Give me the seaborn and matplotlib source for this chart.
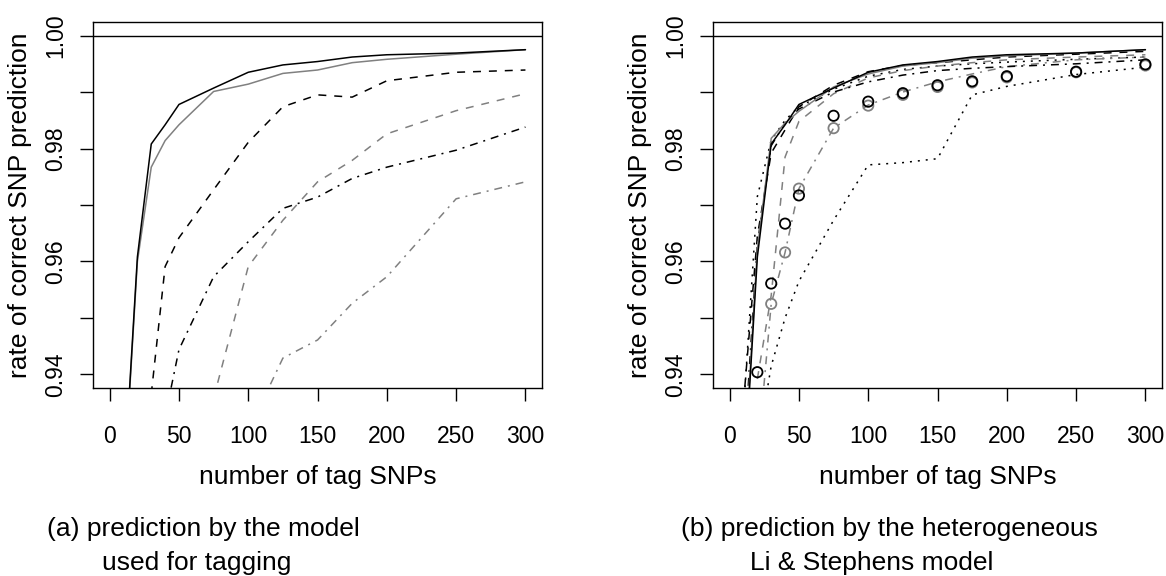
import numpy as np
import pandas as pd
import matplotlib
matplotlib.use("Agg")
import matplotlib.pyplot as plt
import seaborn as sns

# number of tag SNPs
n_tags = [10, 20, 30, 40, 50, 75, 100, 125, 150, 175, 200, 250, 300]
nan = np.nan

# (a) prediction by the model used for tagging
a_black_solid = [0.9195, 0.9608, 0.9808, 0.9842, 0.9878, 0.9907, 0.9935, 0.9948, 0.9954, 0.9962, 0.9966, 0.9969, 0.9975]
a_gray_solid = [0.9190, 0.9600, 0.9767, 0.9814, 0.9842, 0.9901, 0.9914, 0.9933, 0.9939, 0.9952, 0.9958, 0.9967, 0.9975]
a_black_dashed = [nan, nan, 0.9365, 0.9591, 0.9642, 0.9727, 0.9811, 0.9874, 0.9895, 0.9891, 0.9920, 0.9935, 0.9939]
a_black_dashdot = [nan, nan, nan, 0.9325, 0.9444, 0.9573, 0.9635, 0.9694, 0.9714, 0.9747, 0.9767, 0.9797, 0.9838]
a_gray_dashed = [nan, nan, nan, nan, nan, 0.9358, 0.9591, 0.9673, 0.9741, 0.9779, 0.9826, 0.9867, 0.9897]
a_gray_dashdot = [nan, nan, nan, nan, nan, nan, 0.9300, 0.9429, 0.9461, 0.9526, 0.9573, 0.9711, 0.9741]

# (b) prediction by the heterogeneous Li & Stephens model
b_gray_solid = [0.9210, 0.9622, 0.9818, 0.9845, 0.9866, 0.9909, 0.9932, 0.9946, 0.9952, 0.9960, 0.9964, 0.9969, 0.9975]
b_black_dashed = [0.9350, 0.9645, 0.9792, 0.9833, 0.9874, 0.9912, 0.9936, 0.9947, 0.9952, 0.9957, 0.9962, 0.9967, 0.9972]
b_black_dashdot = [0.9250, 0.9630, 0.9805, 0.9845, 0.9870, 0.9900, 0.9918, 0.9930, 0.9938, 0.9942, 0.9945, 0.9950, 0.9957]
b_gray_dashed = [nan, 0.9392, 0.9540, 0.9785, 0.9848, 0.9897, 0.9925, 0.9938, 0.9946, 0.9952, 0.9957, 0.9962, 0.9966]
b_gray_dashdot = [nan, 0.9250, 0.9525, 0.9616, 0.9729, 0.9836, 0.9877, 0.9900, 0.9918, 0.9932, 0.9945, 0.9957, 0.9962]
b_black_dotted = [0.9335, 0.9715, 0.9815, 0.9850, 0.9874, 0.9905, 0.9928, 0.9940, 0.9946, 0.9950, 0.9953, 0.9958, 0.9962]
b_black_dotted2 = [nan, 0.9270, 0.9415, 0.9500, 0.9565, 0.9673, 0.9771, 0.9775, 0.9782, 0.9895, 0.9910, 0.9931, 0.9944]
b_black_circles = [nan, 0.9404, 0.9561, 0.9667, 0.9717, 0.9858, 0.9883, 0.9898, 0.9912, 0.9919, 0.9928, 0.9936, 0.9949]
b_gray_circles = [nan, 0.9350, 0.9525, 0.9616, 0.9729, 0.9836, 0.9876, 0.9895, 0.9909, 0.9917, 0.9926, 0.9935, 0.9947]

x_ticks = [0, 50, 100, 150, 200, 250, 300]
y_ticks = [0.94, 0.95, 0.96, 0.97, 0.98, 0.99, 1.00]
y_ticklabels = ["0.94", "", "0.96", "", "0.98", "", "1.00"]

GRAY = "#808080"
DASHED = (0, (5.2, 5.2))
DOTTED = (0, (1.3, 3.9))
DASHDOT = (0, (1.3, 3.9, 5.2, 3.9))
TICK_FS = 16.5
LABEL_FS = 19
CAPTION_FS = 19

sns.set_style("ticks")
plt.rcParams["font.family"] = ["Liberation Sans", "DejaVu Sans"]
plt.rcParams["text.color"] = "black"
plt.rcParams["axes.labelcolor"] = "black"
plt.rcParams["xtick.color"] = "black"
plt.rcParams["ytick.color"] = "black"


def add_line(ax, y, color, ls, lw=1.1):
    df = pd.DataFrame({"x": n_tags, "y": y}).dropna()
    sns.lineplot(data=df, x="x", y="y", ax=ax, color=color, linestyle=ls,
                 linewidth=lw, estimator=None, sort=False)


def add_circles(ax, y, color):
    df = pd.DataFrame({"x": n_tags, "y": y}).dropna()
    sns.scatterplot(data=df, x="x", y="y", ax=ax, marker="o", s=55,
                    facecolor="none", edgecolor=color, linewidth=1.3, zorder=5)


def style_axes(ax):
    ax.axhline(1.0, color="black", linewidth=1.0)
    ax.set_xlim(-12, 312)
    ax.set_ylim(0.9376, 1.0024)
    ax.set_xticks(x_ticks)
    ax.set_xticklabels([str(v) for v in x_ticks])
    ax.set_yticks(y_ticks)
    ax.set_yticklabels(y_ticklabels, rotation=90, va="center")
    ax.tick_params(axis="both", direction="out", length=9.5, width=1.0,
                   color="black", labelcolor="black", labelsize=TICK_FS)
    ax.tick_params(axis="x", pad=17)
    ax.tick_params(axis="y", pad=9)
    for sp in ax.spines.values():
        sp.set_visible(True)
        sp.set_color("black")
        sp.set_linewidth(1.0)
    ax.set_xlabel("number of tag SNPs", fontsize=LABEL_FS)
    ax.set_ylabel("rate of correct SNP prediction", fontsize=LABEL_FS)
    ax.xaxis.set_label_coords(0.5, -0.243)
    ax.xaxis.label.set_va("center")
    ax.yaxis.set_label_coords(-0.162, 0.5)
    ax.yaxis.label.set_va("center")
    ax.grid(False)


fig = plt.figure(figsize=(11.66, 5.76), dpi=100)
ax1 = fig.add_axes([0.0798, 0.3264, 0.3851, 0.6354])
ax2 = fig.add_axes([0.6115, 0.3264, 0.3851, 0.6354])

# panel (a)
add_line(ax1, a_gray_dashdot, GRAY, DASHDOT)
add_line(ax1, a_gray_dashed, GRAY, DASHED)
add_line(ax1, a_black_dashdot, "black", DASHDOT)
add_line(ax1, a_black_dashed, "black", DASHED)
add_line(ax1, a_gray_solid, GRAY, "-")
add_line(ax1, a_black_solid, "black", "-")
style_axes(ax1)

# panel (b)
add_line(ax2, b_black_dotted2, "black", DOTTED)
add_line(ax2, b_black_dotted, "black", DOTTED)
add_line(ax2, b_gray_dashdot, GRAY, DASHDOT)
add_line(ax2, b_gray_dashed, GRAY, DASHED)
add_line(ax2, b_black_dashdot, "black", DASHDOT)
add_line(ax2, b_black_dashed, "black", DASHED)
add_line(ax2, b_gray_solid, GRAY, "-")
add_line(ax2, a_black_solid, "black", "-")
add_circles(ax2, b_gray_circles, GRAY)
add_circles(ax2, b_black_circles, "black")
style_axes(ax2)

fig.text(47 / 1166, 1 - 529 / 576, "(a) prediction by the model", fontsize=CAPTION_FS, ha="left", va="center")
fig.text(102 / 1166, 1 - 563 / 576, "used for tagging", fontsize=CAPTION_FS, ha="left", va="center")
fig.text(681 / 1166, 1 - 529 / 576, "(b) prediction by the heterogeneous", fontsize=CAPTION_FS, ha="left", va="center")
fig.text(750 / 1166, 1 - 563 / 576, "Li & Stephens model", fontsize=CAPTION_FS, ha="left", va="center")

fig.savefig("out.png", dpi=100)
